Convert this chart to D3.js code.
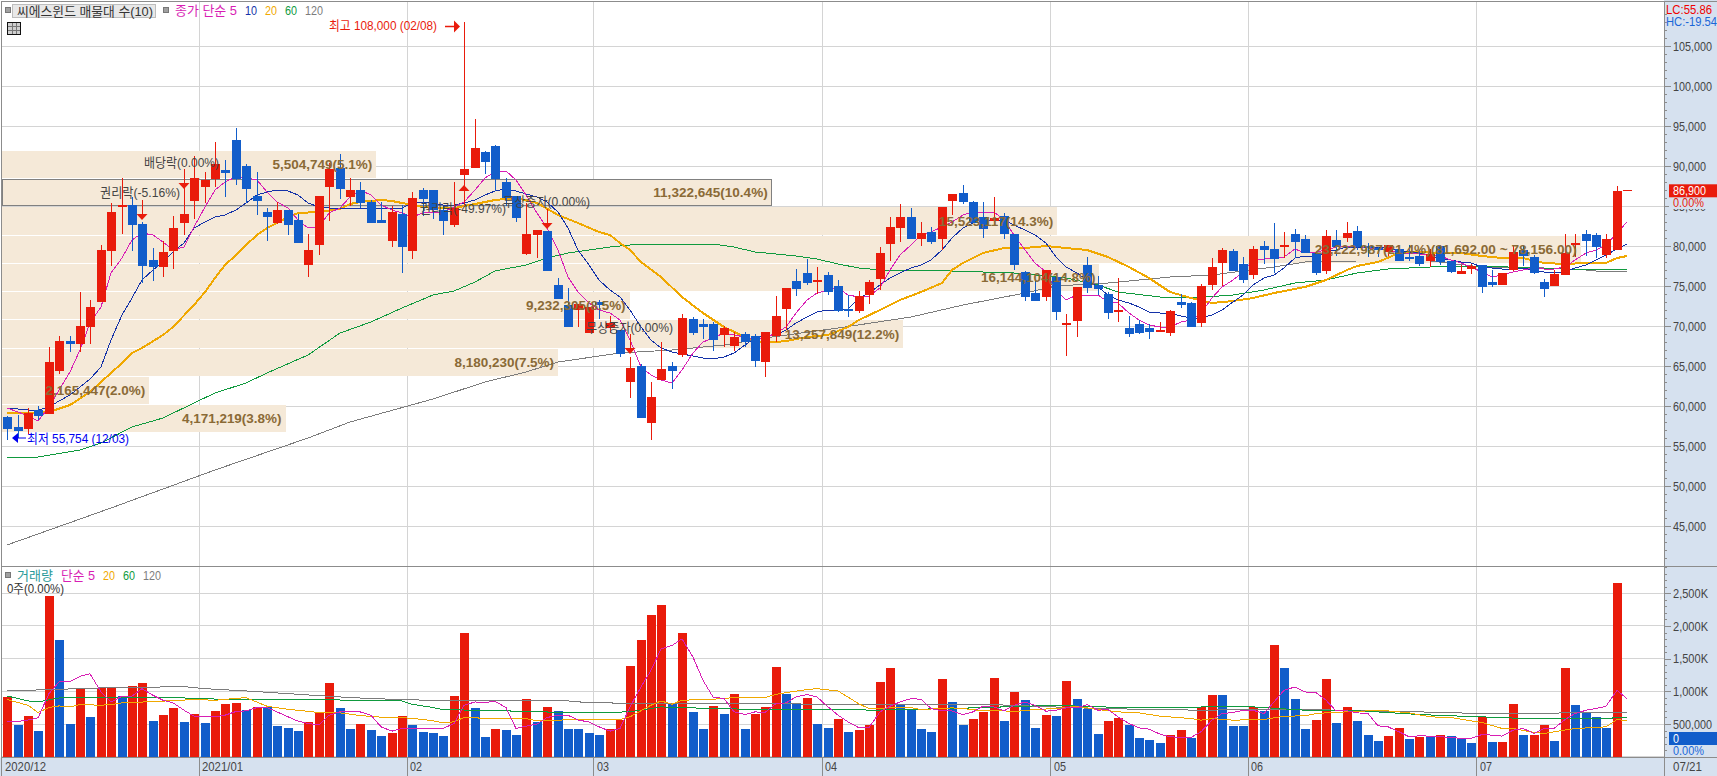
<!DOCTYPE html>
<html lang="ko">
<head>
    <meta charset="UTF-8">
    <title>씨에스윈드 매물대 수(10)</title>
    <script src="https://d3js.org/d3.v7.min.js"></script>
    <style>
        html, body { margin: 0; padding: 0; background: #fff; overflow: hidden; }
        svg { display: block; }
        text { font-family: "Liberation Sans", "Noto Sans CJK KR", sans-serif; font-size: 13px; }
        .axis path { display: none; }
        .axis line { stroke: #8c8c8c; }
        .axis text { fill: #444; font-size: 13px; }
    </style>
</head>

<body>
<svg width="1717" height="776"></svg>
<script type="text/javascript">
    // candles, one per trading day
    const opens = [
        58660,57375,57125,59500,59040,64375,68125,67750,69875,73000,
        79375,85125,85125,82750,78250,77375,79375,82875,85625,87375,
        88375,89450,93250,90000,86250,84250,82875,84500,83250,77625,
        80125,87375,89750,86125,87000,85500,83250,80625,84000,79375,
        87000,87000,84500,82625,88875,89750,91750,92500,88000,86250,
        79000,81375,81875,75125,72625,72000,69125,73000,69750,69500,
        63000,65000,57875,63250,65000,66375,70875,70250,70250,68875,
        67500,69000,68750,65500,68750,72125,75625,76625,75750,76375,
        75000,72125,71875,73875,75875,80250,82250,83625,80875,81750,
        80875,85625,86625,85500,83625,83125,83750,81500,76750,74125,
        73625,76125,70125,70625,77625,75125,74000,72000,69750,70250,
        69750,69500,69125,73000,72875,70375,75125,77875,79375,77750,
        76375,80000,79625,79875,81500,80875,79125,76875,80750,81000,
        81875,80000,79750,79250,79625,78625,78750,78125,80000,78125,
        76500,77125,77625,75500,75125,77000,79500,78625,75500,75000,
        76375,80125,81500,81375,78875,79500];
    const highs = [
        58800,58900,59700,60040,67375,68750,68750,74250,73250,80125,
        85375,88500,86125,83000,79750,80660,83750,89500,91250,89250,
        93000,90750,94750,90250,89250,84750,85500,84500,84000,81500,
        86250,90375,91500,88500,88000,85750,85500,85000,85125,86750,
        87250,87000,85000,88000,108000,95875,91875,92625,88500,86250,
        85375,82000,81875,76000,74750,72800,72375,73250,71250,69500,
        66125,65250,63000,68000,65500,71500,71125,70875,70500,70000,
        69250,69250,69000,69250,73750,74750,77125,78375,77375,76750,
        75750,73875,74375,75750,79875,83625,85250,84750,83000,82375,
        84875,86500,87625,85625,85500,86125,84125,81500,76875,75625,
        77000,76125,71500,74875,78625,76250,74250,76000,71250,70750,
        70250,70500,72000,74000,73000,75250,78500,79750,79625,78625,
        80000,80625,82875,81750,82125,81375,79250,82000,82000,83000,
        82500,80375,79875,80125,79625,80125,79500,79625,80125,78125,
        77625,77750,77625,77000,76625,80125,80125,78875,75875,77000,
        81500,81500,82000,81625,81500,87500];
    const lows = [
        55754,56000,56500,58250,59040,64000,66800,66750,67750,73000,
        77540,81500,79375,75375,75625,76125,77125,81375,83375,85375,
        87375,86125,87625,85375,83875,80625,82750,81375,80375,76125,
        78875,83125,85875,85000,84750,82875,82875,79875,76625,78375,
        83750,83375,81375,82375,85375,89750,89000,86875,85000,83000,
        78875,78500,76875,73375,69875,69875,69125,70875,69125,66125,
        61000,58500,55750,63250,62125,66125,68875,68375,66875,67375,
        66875,67375,64875,63625,68000,69500,73750,75125,74000,73875,
        71750,71125,71625,72750,74500,78125,80500,80875,80000,80250,
        79500,83875,85250,82875,81000,82625,80875,77000,73125,73125,
        73125,70750,66250,68625,74125,73875,70875,70500,68625,69000,
        68375,69375,68750,72250,69875,69875,74500,75000,76875,75375,
        75875,77750,76625,78500,78500,79125,76375,76500,78750,80500,
        79500,78625,78625,78750,78125,78125,77500,77375,77625,76625,
        76500,76500,74125,74875,75125,76875,77500,76500,73625,75000,
        76375,78625,78750,78500,78500,79500];
    const closes = [
        57125,56875,59125,58750,65500,68125,67800,70000,72375,79500,
        84250,85125,82625,77500,77375,79250,82250,84000,88500,88250,
        90250,89125,88375,87125,85625,83625,84500,82625,80375,79500,
        86250,89625,87125,87000,85375,82875,82875,84250,79875,86000,
        85875,84500,83125,84750,89625,92250,90500,88375,86000,83500,
        81500,82000,76875,73375,69875,72800,72375,72625,70375,66500,
        64750,58500,61125,64625,64375,71000,69125,69875,68250,69750,
        68625,68000,65625,69250,71250,74750,74625,75375,75750,74250,
        71875,72000,73750,75500,79125,82375,83625,80875,81625,80500,
        84875,86500,85500,82875,82125,83500,81500,77625,73625,73125,
        77000,71750,70375,74875,74750,74625,71625,72000,69000,69125,
        69250,69500,71875,72625,69875,75000,77375,79500,76875,75750,
        79625,79500,78375,80125,80500,79125,76625,81250,79875,81625,
        79875,79875,79500,80125,78125,78375,77750,79000,78000,76750,
        76875,77500,74875,75125,76625,79250,78750,76625,74625,76500,
        79125,80375,80625,79875,80875,86900];

    // volume in thousands of shares
    const volumes = [
        909,483,620,391,2464,1793,498,1031,605,1057,
        1057,925,1077,1123,544,635,742,528,650,513,
        696,803,818,711,757,755,467,437,391,528,
        665,1123,742,422,498,406,315,361,620,483,
        376,361,315,925,1885,742,300,422,406,330,
        879,528,757,696,422,421,361,330,422,559,
        1382,1793,2174,2327,818,1900,681,422,772,650,
        955,422,650,757,1367,955,818,894,498,437,
        574,376,406,483,1138,1351,787,711,422,376,
        1184,833,483,574,681,1199,544,986,864,437,
        635,620,1153,879,726,345,544,589,483,284,
        254,208,330,406,284,757,940,938,467,465,
        757,696,1702,1351,879,422,559,1184,513,757,
        544,330,239,315,437,269,300,298,330,315,
        269,208,605,224,224,803,330,330,483,239,
        1351,787,681,605,437,2662];

    // moving averages of the close; one more point than candles, the picture runs them past the last bar
    const ma5 = [
        59750,59250,58750,58125,59875,62000,64250,67000,70375,72375,
        76625,78500,80750,81625,81375,80500,79500,79875,82375,84875,
        87000,88000,88625,88500,88250,86750,85500,84750,83250,82250,
        82375,84125,84750,86125,87000,86375,85125,84500,84125,83625,
        84125,84250,84250,84875,85500,87000,88500,89250,89375,88250,
        86375,84125,82250,79500,76125,74250,72875,72000,71625,70750,
        68250,64875,63875,63250,62875,64500,66625,68000,68500,69125,
        68875,68625,68250,68500,69125,69875,71625,73250,74125,74500,
        74750,73875,73625,73750,74750,77000,78875,80125,81375,81750,
        82375,83000,83875,84250,84250,84250,83250,81375,79500,77875,
        76750,74500,73250,73875,73875,73875,73000,72875,71625,70750,
        70125,69875,69875,70500,70750,71625,73500,74875,75750,76750,
        78250,78375,78500,78625,79625,79125,79250,79500,79875,80000,
        80000,79750,79750,79500,79125,79125,79000,78875,78750,78250,
        77875,77375,76750,76125,76375,76750,77000,77250,77125,77125,
        77375,78250,79125,79500,80125,81625,83000];
    const ma10 = [
        59750,59625,59500,59500,59875,60625,61375,62375,63375,64875,
        68250,71375,73500,75750,77000,78000,79250,80375,82250,83000,
        83625,83875,84500,85375,86375,86750,87000,86875,86375,85375,
        84875,84750,84750,84750,84750,84750,84750,84750,84750,85375,
        85500,85375,85125,85125,85375,85750,86375,86875,87125,86875,
        86500,86125,85500,84250,82250,79500,77625,75750,74500,73625,
        72000,69875,68250,67250,66750,66500,66250,66000,65875,66125,
        66625,67625,68500,68750,68875,69500,70375,71125,71750,72000,
        72000,72125,73500,74125,75125,76000,76625,77250,77625,78250,
        79500,81000,82250,82875,83000,83250,83250,82625,82000,81375,
        80375,78625,77375,76625,75750,74875,73875,73250,72875,72375,
        71750,71625,71625,71250,71000,71000,71375,72000,73000,73875,
        75125,76000,76375,77250,78500,78750,78625,79250,79500,79875,
        79875,79875,79875,79750,79500,79250,79125,78750,78500,78250,
        78000,77875,77375,77250,77125,77125,77250,77000,76750,76750,
        76750,77250,77625,78250,78875,79625,80250];
    const ma20Idx = [0,3,4,6,8,9,10,11,12,13,15,16,18,19,20,21,22,23,24,25,26,27,28,30,32,33,34,36,37,38,40,41,43,45,47,49,51,53,55,57,58,59,60,61,63,65,67,69,71,73,75,77,79,81,82,84,86,88,90,91,92,94,96,98,100,102,104,106,108,110,112,114,116,118,120,122,125,127,129,130,132,134,136,138,140,142,144,146,148,150,152,154,155,156];
    const ma20 = [59125,59125,59250,60125,61750,63000,64125,65375,66625,67250,68875,69875,72625,74250,76000,77625,78875,80125,81375,82250,82875,83625,84125,84250,84625,85250,85500,85750,85625,85375,84875,84750,84750,85250,85750,86000,85375,83875,82875,81750,81375,80375,79500,78000,76125,73625,71625,69875,68625,67875,68125,68625,68875,69875,70750,72000,73250,74250,75375,77000,77875,79125,79750,79750,80000,79750,79500,78625,77375,76000,74250,73500,72875,73125,73500,74125,74875,75750,77000,77500,78000,79125,79250,79125,79125,78750,78500,78500,77875,77750,77875,77875,78500,78750];
    const ma60Idx = [0,3,7,9,12,15,18,20,23,25,29,32,35,38,41,43,45,47,50,52,54,56,58,60,63,68,70,72,74,76,78,80,82,84,88,94,97,102,105,107,111,114,118,121,124,127,130,133,137,142,147,150,156];
    const ma60 = [53500,53625,54500,55375,57375,58500,60375,61625,62875,64125,66375,69125,70500,72250,73875,74375,75500,76875,77625,78500,79125,79500,79875,80125,80250,80250,79875,79250,79000,78750,78375,77750,77250,77000,77000,76750,76625,76000,75125,74250,73625,73500,73875,74500,75375,75750,76625,77125,77375,77500,77250,77125,77000];
    const ma120Idx = [0,10,20,29,33,41,46,50,53,59,64,69,73,80,87,92,98,101,106,112,116,122,125,130,137,142,146,152,154,156];
    const ma120 = [42625,47250,52000,56000,58000,60875,63000,64250,65500,66625,67000,67625,68500,69750,71125,72625,74125,75000,75375,76125,76375,77375,78000,78125,78125,77375,77375,77000,76750,76875];

    // moving averages of the volume
    const volMa5 = [
        533,540,560,594,965,1143,1153,1229,1270,991,
        838,925,925,1041,940,864,823,711,620,620,
        610,635,691,701,752,752,686,610,544,508,
        488,635,686,696,686,635,457,391,432,432,
        427,432,432,508,787,838,828,848,752,432,
        467,498,599,635,635,559,533,457,391,432,
        762,1067,1321,1651,1702,1803,1524,1168,914,889,
        686,645,686,676,813,823,914,950,914,762,
        635,533,442,447,686,772,838,889,879,737,
        701,701,645,686,772,762,701,787,838,787,
        696,711,747,747,798,711,721,610,508,442,
        422,345,305,295,295,381,559,660,676,711,
        711,660,838,1016,1067,991,980,864,701,701,
        671,660,472,457,381,305,320,315,305,295,
        279,279,340,330,315,406,432,356,432,432,
        569,660,711,737,772,1016,889];
    const volMa20Idx = [0,2,3,4,5,6,7,9,10,11,14,18,20,23,25,27,30,32,34,36,38,40,41,42,43,44,47,50,51,55,59,60,62,63,64,65,68,70,73,74,75,77,78,80,82,83,85,87,88,91,92,94,96,97,99,101,103,105,107,109,111,114,115,116,118,121,123,125,126,127,129,131,133,135,137,139,141,142,144,145,147,148,151,153,154,155,156];
    const volMa20 = [874,787,676,752,777,762,798,787,798,823,843,874,864,904,772,726,676,671,630,605,599,569,549,518,533,599,584,584,549,569,569,610,787,853,803,864,879,904,904,955,980,1026,1041,1006,808,737,747,752,721,747,737,701,701,691,721,737,772,721,686,671,620,584,559,584,559,569,620,625,660,671,686,701,701,671,610,599,549,523,432,432,371,356,432,447,457,569,549];
    const volMa60Idx = [0,2,3,5,9,17,19,26,35,38,39,41,42,48,55,60,63,68,73,82,83,91,101,105,110,116,120,123,126,129,133,136,140,144,146,153,156];
    const volMa60 = [930,853,838,899,904,899,884,874,864,853,803,752,721,701,671,686,762,737,721,721,711,737,787,762,752,762,762,732,701,711,676,645,620,599,584,584,599];
    const volMa120Idx = [0,9,17,19,23,27,32,35,41,54,55,60,73,82,94,99,105,115,123,136,142,156];
    const volMa120 = [1006,1052,1072,1041,1006,965,914,889,861,853,838,813,813,795,803,772,737,711,729,686,660,676];

    // price-volume bands (매물대)
    const bandLow = [56790,60250,63790,67290,70840,74410,77910,81375,85040,88500];
    const bandHigh = [60125,63625,67125,70750,74250,77750,81250,84910,88340,91875];
    const bandVolume = [4171219,2165447,8180230,13257849,9232305,16144104,23222987,15523117,11322645,5504749];
    const bandLabel = ["4,171,219(3.8%)","2,165,447(2.0%)","8,180,230(7.5%)","13,257,849(12.2%)","9,232,305(8.5%)","16,144,104(14.8%)","23,222,987(21.4%)(81,692.00 ~ 78,156.00)","15,523,117(14.3%)","11,322,645(10.4%)","5,504,749(5.1%)"];
    const currentBand = 8;

    // corporate action arrows: candle, tip price, direction
    const actionIdx = [13,17,44,52,60];
    const actionTip = [83250,87125,87625,82125,66500];
    const actionDir = [-1,-1,1,-1,-1];

    const priceTicks = d3.range(45000, 105001, 5000);
    const volumeTicks = [500,1000,1500,2000,2500];
    const volumeTickLabels = ["500,000","1,000K","1,500K","2,000K","2,500K"];
    const monthIdx = [0,19,39,57,79,101,120,142];
    const monthLabels = ["2020/12","2021/01","02","03","04","05","06","07"];

    const RED = "#e91b0b", BLUE = "#125dca";
    const MAGENTA = "#d81eb4", NAVY = "#1432a8", ORANGE = "#f0a800", GREEN = "#0f9a3e", GRAY = "#7c7c7c";
    const PANEL = "#d6e1ef", GRID = "#d4d4d4", BORDER = "#8c8c8c";

    const plotRight = 1664, split = 566, bottom = 757.5;

    let svg = d3.select("svg");

    let x = d3.scaleBand().domain(d3.range(157)).range([2.14, 2.14 + 157 * 10.383]);
    let cx = i => Math.round(x(i) + x.bandwidth() / 2);
    let y = d3.scaleLinear().domain([45000, 105000]).range([526, 46]);
    let yVol = d3.scaleLinear().domain([0, 2500]).range([756.7, 593.3]);
    let bandW = d3.scaleLinear().domain([0, d3.max(bandVolume)]).range([2, 1580.7]);

    function label(g, px, py, str, color, anchor, weight) {
        return g.append("text")
            .attr("x", px).attr("y", py).attr("dy", "0.36em")
            .attr("text-anchor", anchor || "start")
            .attr("font-weight", weight || "normal")
            .attr("fill", color)
            .text(str);
    }

    // side panels
    svg.append("rect").attr("x", plotRight).attr("y", 0).attr("width", 1717 - plotRight).attr("height", 776).attr("fill", PANEL);
    svg.append("rect").attr("x", 0).attr("y", bottom).attr("width", 1717).attr("height", 776 - bottom).attr("fill", PANEL);

    // grid
    let grid = svg.append("g").attr("shape-rendering", "crispEdges").attr("stroke", GRID);
    grid.selectAll(".h").data(priceTicks).join("line")
        .attr("x1", 2).attr("x2", plotRight).attr("y1", d => y(d)).attr("y2", d => y(d));
    grid.selectAll(".hv").data(volumeTicks.concat([0])).join("line")
        .attr("x1", 2).attr("x2", plotRight).attr("y1", d => yVol(d)).attr("y2", d => yVol(d));
    grid.selectAll(".v").data(monthIdx.slice(1)).join("line")
        .attr("x1", d => x(d)).attr("x2", d => x(d)).attr("y1", 2).attr("y2", bottom);

    // price-volume bands
    let bands = svg.append("g").attr("shape-rendering", "crispEdges");
    bands.selectAll("rect").data(bandVolume).join("rect")
        .attr("x", 2)
        .attr("y", (d, i) => y(bandHigh[i]))
        .attr("width", d => bandW(d) - 2)
        .attr("height", (d, i) => y(bandLow[i]) - y(bandHigh[i]))
        .attr("fill", "#f5e9d8")
        .attr("stroke", (d, i) => i === currentBand ? "#808080" : "none");

    // price moving averages, candles go over them
    let line = d3.line().x(d => cx(d[0])).y(d => d[1]);
    function priceLine(idx, vals, color, width) {
        svg.append("path")
            .attr("d", line(vals.map((v, i) => [idx ? idx[i] : i, y(v)])))
            .attr("fill", "none").attr("stroke", color).attr("stroke-width", width)
            .attr("shape-rendering", "crispEdges");
    }
    priceLine(ma120Idx, ma120, GRAY, 1);
    priceLine(ma60Idx, ma60, GREEN, 1);
    priceLine(ma20Idx, ma20, ORANGE, 2);
    priceLine(null, ma10, NAVY, 1);
    priceLine(null, ma5, MAGENTA, 1);

    // candles
    let candles = svg.append("g").attr("shape-rendering", "crispEdges");
    let candleColor = i => closes[i] >= opens[i] ? RED : BLUE;
    candles.selectAll(".wick").data(opens).join("line")
        .attr("x1", (d, i) => cx(i)).attr("x2", (d, i) => cx(i))
        .attr("y1", (d, i) => y(highs[i])).attr("y2", (d, i) => y(lows[i]))
        .attr("stroke", (d, i) => candleColor(i));
    candles.selectAll(".body").data(opens).join("rect")
        .attr("x", (d, i) => cx(i) - 4)
        .attr("width", 9)
        .attr("y", (d, i) => y(Math.max(d, closes[i])))
        .attr("height", (d, i) => Math.max(1.5, Math.abs(y(d) - y(closes[i]))))
        .attr("fill", (d, i) => candleColor(i));

    // last price stub past the final candle
    svg.append("line").attr("x1", cx(155) + 6).attr("x2", cx(155) + 15)
        .attr("y1", y(closes[155])).attr("y2", y(closes[155]))
        .attr("stroke", RED).attr("shape-rendering", "crispEdges");

    // corporate action arrows
    let arrows = svg.append("g").attr("fill", RED).attr("stroke", RED);
    actionIdx.forEach((d, n) => {
        let tip = y(actionTip[n]), dir = actionDir[n];
        arrows.append("path").attr("stroke", "none")
            .attr("d", `M${cx(d)},${tip}l-5.5,${dir * 6}h11z`);
        arrows.append("line").attr("x1", cx(d)).attr("x2", cx(d))
            .attr("y1", tip + dir * 6).attr("y2", tip + dir * 20)
            .attr("shape-rendering", "crispEdges");
    });

    // band labels sit on top of the candles
    let bandText = svg.append("g");
    bandVolume.forEach((d, i) => {
        label(bandText, bandW(d) - 4, (y(bandHigh[i]) + y(bandLow[i])) / 2, bandLabel[i], "#8a6a36", "end", "bold");
    });

    // corporate action labels
    let notes = svg.append("g");
    label(notes, 144, 162, "배당락(0.00%)", "#444");
    label(notes, 100, 192, "권리락(-5.16%)", "#444");
    label(notes, 420, 208, "권리락(-49.97%)", "#444");
    label(notes, 503, 201, "무상증자(0.00%)", "#444");
    label(notes, 586, 327, "무상증자(0.00%)", "#444");

    // high and low flags
    label(notes, 329, 25, "최고 108,000 (02/08)", RED);
    notes.append("path").attr("d", "M445,26.5h10").attr("stroke", RED).attr("stroke-width", 1.5);
    notes.append("path").attr("d", "M460,26.5l-6,-6v12z").attr("fill", RED);
    label(notes, 27, 438, "최저 55,754 (12/03)", "#0000f0");
    notes.append("path").attr("d", "M14,438h12").attr("stroke", "#0000f0");
    notes.append("path").attr("d", "M12,438l6,-5v10z").attr("fill", "#0000f0");

    // volume bars, red when above the previous session
    let volColor = i => i === 0 || volumes[i] >= volumes[i - 1] ? RED : BLUE;
    svg.append("g").attr("shape-rendering", "crispEdges")
        .selectAll("rect").data(volumes).join("rect")
        .attr("x", (d, i) => cx(i) - 4)
        .attr("width", 9)
        .attr("y", d => yVol(d))
        .attr("height", d => yVol(0) - yVol(d))
        .attr("fill", (d, i) => volColor(i));

    function volLine(idx, vals, color) {
        svg.append("path")
            .attr("d", line(vals.map((v, i) => [idx ? idx[i] : i, yVol(v)])))
            .attr("fill", "none").attr("stroke", color).attr("stroke-width", 1)
            .attr("shape-rendering", "crispEdges");
    }
    volLine(volMa120Idx, volMa120, GRAY);
    volLine(volMa60Idx, volMa60, GREEN);
    volLine(volMa20Idx, volMa20, ORANGE);
    volLine(null, volMa5, MAGENTA);

    // frame
    let frame = svg.append("g").attr("stroke", BORDER).attr("shape-rendering", "crispEdges");
    frame.append("line").attr("x1", 1).attr("x2", 1717).attr("y1", 1).attr("y2", 1);
    frame.append("line").attr("x1", 1).attr("x2", 1).attr("y1", 1).attr("y2", 776);
    frame.append("line").attr("x1", 1).attr("x2", 1717).attr("y1", split).attr("y2", split);
    frame.append("line").attr("x1", 1).attr("x2", 1717).attr("y1", bottom).attr("y2", bottom);
    frame.append("line").attr("x1", plotRight).attr("x2", plotRight).attr("y1", 1).attr("y2", 776);
    frame.selectAll(".m").data(monthIdx.slice(1)).join("line")
        .attr("x1", d => x(d)).attr("x2", d => x(d)).attr("y1", bottom).attr("y2", 776);

    // right axes
    let priceMinor = d3.axisRight(y).tickValues(d3.range(41000, 109001, 1000)).tickSize(3).tickFormat("");
    svg.append("g").attr("class", "axis").attr("transform", `translate(${plotRight},0)`)
        .attr("shape-rendering", "crispEdges").call(priceMinor);
    let priceAxis = d3.axisRight(y).tickValues(priceTicks).tickSize(7).tickPadding(2).tickFormat(d3.format(","));
    svg.append("g").attr("class", "axis").attr("transform", `translate(${plotRight},0)`)
        .attr("shape-rendering", "crispEdges").call(priceAxis);

    let volMinor = d3.axisRight(yVol).tickValues(d3.range(0, 2901, 100)).tickSize(3).tickFormat("");
    svg.append("g").attr("class", "axis").attr("transform", `translate(${plotRight},0)`)
        .attr("shape-rendering", "crispEdges").call(volMinor);
    let volAxis = d3.axisRight(yVol).tickValues(volumeTicks).tickSize(7).tickPadding(2)
        .tickFormat((d, i) => volumeTickLabels[i]);
    svg.append("g").attr("class", "axis").attr("transform", `translate(${plotRight},0)`)
        .attr("shape-rendering", "crispEdges").call(volAxis);

    // time axis
    let timeAxis = svg.append("g");
    monthIdx.forEach((d, i) => label(timeAxis, Math.round(x(d)) + 3, 766, monthLabels[i], "#444"));
    label(timeAxis, 1673, 766, "07/21", "#444");

    // price and volume tags in the panel
    let tags = svg.append("g");
    tags.append("rect").attr("x", 1669).attr("y", 197).attr("width", 48).attr("height", 12).attr("fill", PANEL);
    tags.append("rect").attr("x", 1669).attr("y", y(closes[155]) - 6.5).attr("width", 48).attr("height", 13).attr("fill", RED);
    label(tags, 1673, y(closes[155]), d3.format(",")(closes[155]), "#fff");
    label(tags, 1673, 202, "0.00%", RED);
    tags.append("rect").attr("x", 1669).attr("y", 732).attr("width", 48).attr("height", 13).attr("fill", BLUE);
    label(tags, 1673, 738.5, "0", "#fff");
    label(tags, 1673, 750, "0.00%", "#1a66d8");
    label(tags, 1666, 9, "LC:55.86", "#f00000");
    label(tags, 1666, 21, "HC:-19.54", "#1a66d8");

    // legends
    let legend = svg.append("g");
    legend.append("rect").attr("x", 12.5).attr("y", 4.5).attr("width", 143).attr("height", 13)
        .attr("fill", "#e8e8e8").attr("stroke", "#bdbdbd").attr("shape-rendering", "crispEdges");
    label(legend, 17, 11, "씨에스윈드 매물대 수(10)", "#333");
    [[5, 10], [163, 10], [5, 575]].forEach(p => {
        legend.append("rect").attr("x", p[0]).attr("y", p[1] - 2.5).attr("width", 5).attr("height", 5)
            .attr("fill", "#a0a0a0").attr("stroke", "#777").attr("shape-rendering", "crispEdges");
    });
    label(legend, 175, 10, "종가 단순 5", MAGENTA);
    label(legend, 245, 10, "10", NAVY);
    label(legend, 265, 10, "20", ORANGE);
    label(legend, 285, 10, "60", GREEN);
    label(legend, 305, 10, "120", GRAY);
    label(legend, 17, 575, "거래량", "#2a9a9a");
    label(legend, 61, 575, "단순 5", MAGENTA);
    label(legend, 103, 575, "20", ORANGE);
    label(legend, 123, 575, "60", GREEN);
    label(legend, 143, 575, "120", GRAY);
    label(legend, 7, 588, "0주(0.00%)", "#333");

    // little table button
    let button = legend.append("g").attr("shape-rendering", "crispEdges");
    button.append("rect").attr("x", 7.5).attr("y", 22.5).attr("width", 13).attr("height", 12)
        .attr("fill", "#cfcfcf").attr("stroke", "#111");
    [12, 16].forEach(p => button.append("line").attr("x1", p).attr("x2", p).attr("y1", 23).attr("y2", 34).attr("stroke", "#777"));
    [26, 30].forEach(p => button.append("line").attr("x1", 8).attr("x2", 20).attr("y1", p).attr("y2", p).attr("stroke", "#777"));

    // the terminal font is narrow, squeeze every text to its widths
    function charWidth(c) {
        if (/[가-힣]/.test(c)) return 12;
        if (/[0-9]/.test(c)) return 6;
        if (c === "," || c === "." || c === ":") return 3;
        if (c === "(" || c === ")" || c === " ") return 4;
        if (c === "%") return 10;
        if (c === "/" || c === "-") return 5;
        return 8;
    }
    svg.selectAll("text").each(function() {
        let str = this.textContent;
        if (!str) return;
        let k = d3.select(this).attr("font-weight") === "bold" ? 1.23 : 1;
        let w = d3.sum(str.split(""), charWidth) * k;
        d3.select(this).attr("textLength", w).attr("lengthAdjust", "spacingAndGlyphs");
    });
</script>
</body>
</html>
